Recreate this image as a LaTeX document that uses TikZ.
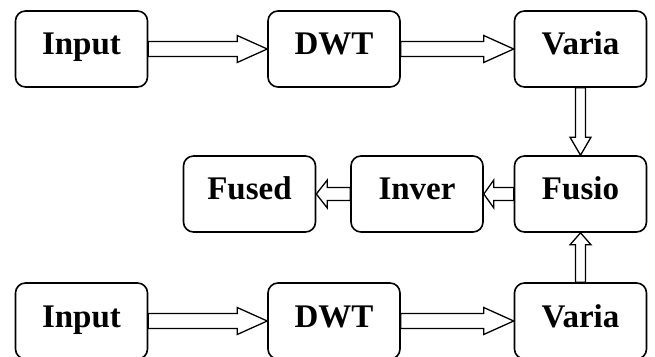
\documentclass[tikz,border=0pt]{standalone}
\usepackage{fontspec}
\setmainfont{Liberation Serif}
\usepackage{tikz}
\usetikzlibrary{calc,positioning}

\tikzset{
  stage/.style={draw, line width=1.6pt, rounded corners=10pt, minimum width=132pt,
    minimum height=76pt, inner sep=0pt, text height=24pt, text depth=12pt,
    font=\fontsize{33}{38}\selectfont\bfseries},
  arrowline/.style={draw, fill=white, line width=1.3pt, line join=miter}
}

% hollow block arrow: from, to, shaft half width, head half width, head length
\newcommand{\hollowarrow}[5]{%
  \coordinate (hb) at ($(#2)!#5!(#1)$);
  \path[arrowline] ($(#1)!#3!90:(#2)$) -- ($(hb)!#3!90:(#2)$) -- ($(hb)!#4!90:(#2)$)
    -- (#2) -- ($(hb)!#4!-90:(#2)$) -- ($(hb)!#3!-90:(#2)$) -- ($(#1)!#3!-90:(#2)$) -- cycle;
}

\begin{document}
\begin{tikzpicture}[x=1pt, y=1pt]
    \useasboundingbox (0,0) rectangle (655,356);

    % top row
    \node[stage] (in1) at (81.5, 307) {Input};
    \node[stage] (dwt1) at (334, 307) {DWT};
    \node[stage] (var1) at (580.5, 307) {Varia};

    % middle row
    \node[stage] (fused) at (249.5, 162) {Fused};
    \node[stage] (inv) at (417, 162) {Inver};
    \node[stage] (fus) at (580.5, 162) {Fusio};

    % bottom row
    \node[stage] (in2) at (81.5, 35) {Input};
    \node[stage] (dwt2) at (334, 35) {DWT};
    \node[stage] (var2) at (580.5, 35) {Varia};

    % arrows
    \hollowarrow{in1.east}{dwt1.west}{7.5pt}{13.5pt}{30pt}
    \hollowarrow{dwt1.east}{var1.west}{7.5pt}{13.5pt}{30pt}
    \hollowarrow{in2.east}{dwt2.west}{7.5pt}{13.5pt}{30pt}
    \hollowarrow{dwt2.east}{var2.west}{7.5pt}{13.5pt}{30pt}
    \hollowarrow{var1.south}{fus.north}{5pt}{10.5pt}{18pt}
    \hollowarrow{var2.north}{fus.south}{5pt}{10.5pt}{12pt}
    \hollowarrow{fus.west}{inv.east}{6.5pt}{14pt}{10pt}
    \hollowarrow{inv.west}{fused.east}{6.5pt}{14pt}{11pt}
\end{tikzpicture}
\end{document}
